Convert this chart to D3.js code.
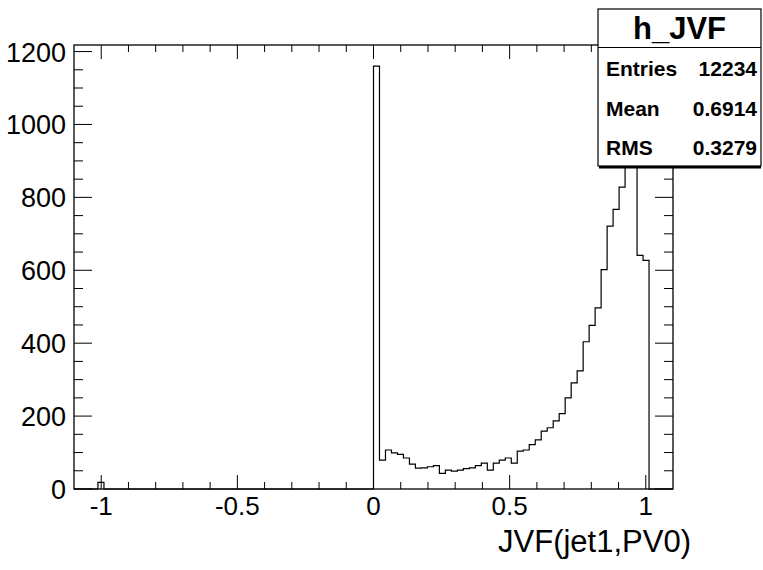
<!DOCTYPE html>
<html>
<head>
<meta charset="utf-8">
<script src="https://cdn.jsdelivr.net/npm/d3@7"></script>
<style>
  body { margin: 0; background: #fff; }
  svg { display: block; }
  text { font-family: 'Liberation Sans', Helvetica, Arial, sans-serif; fill: #000; }
</style>
</head>
<body>
<svg id="chart" width="763" height="570"></svg>
<script>
// histogram binning (ROOT TH1F: 100 bins from -1.1 to 1.1)
var nBins = 100, xMin = -1.1, xMax = 1.1;

// non-empty bins: index -> count
var binIndex = [4,
  50, 51, 52, 53, 54, 55, 56, 57, 58, 59,
  60, 61, 62, 63, 64, 65, 66, 67, 68, 69,
  70, 71, 72, 73, 74, 75, 76, 77, 78, 79,
  80, 81, 82, 83, 84, 85, 86, 87, 88, 89,
  90, 91, 92, 93, 94, 95];
var binCount = [18,
  1160, 79, 107, 99, 95, 85, 68, 57, 58, 61,
  64, 43, 52, 49, 52, 56, 58, 64, 71, 52,
  71, 79, 85, 71, 104, 107, 122, 135, 159, 168,
  187, 207, 250, 291, 324, 404, 449, 497, 602, 721,
  767, 828, 920, 975, 641, 627];

var xMajor = [-1, -0.5, 0, 0.5, 1];
var xMajorLabels = ['-1', '-0.5', '0', '0.5', '1'];
var yMajor = [0, 200, 400, 600, 800, 1000, 1200];
var yMax = 1218;

var histName = 'h_JVF';
var statNames = ['Entries', 'Mean', 'RMS'];
var statValues = ['12234', '0.6914', '0.3279'];
var xTitle = 'JVF(jet1,PV0)';

var svg = d3.select('#chart');
var frame = {left: 74, right: 673, top: 45, bottom: 489};

var x = d3.scaleLinear().domain([xMin, xMax]).range([frame.left, frame.right]);
var y = d3.scaleLinear().domain([0, yMax]).range([frame.bottom, frame.top]);

// full bin contents
var counts = d3.range(nBins).map(function() { return 0; });
binIndex.forEach(function(b, i) { counts[b] = binCount[i]; });
var bw = (xMax - xMin) / nBins;

// step outline of the histogram
var pts = [];
counts.forEach(function(c, i) {
  var lo = xMin + i * bw, hi = lo + bw;
  pts.push([x(lo), y(c)]);
  pts.push([x(hi), y(c)]);
});
svg.append('path')
  .attr('d', d3.line()(pts))
  .attr('fill', 'none')
  .attr('stroke', '#000')
  .attr('stroke-width', 1.2);

// frame
svg.append('rect')
  .attr('x', frame.left).attr('y', frame.top)
  .attr('width', frame.right - frame.left).attr('height', frame.bottom - frame.top)
  .attr('fill', 'none').attr('stroke', '#000').attr('stroke-width', 1.3);

// x ticks, bottom and top
var xMinor = d3.range(-10, 11).map(function(i) { return i / 10; });
var tickG = svg.append('g').attr('stroke', '#000').attr('stroke-width', 1);
xMinor.forEach(function(v) {
  var major = Math.abs(v - Math.round(v * 2) / 2) < 1e-9;
  var len = major ? 14 : 7;
  tickG.append('line').attr('x1', x(v)).attr('x2', x(v))
    .attr('y1', frame.bottom).attr('y2', frame.bottom - len);
  tickG.append('line').attr('x1', x(v)).attr('x2', x(v))
    .attr('y1', frame.top).attr('y2', frame.top + len);
});

// y ticks, left and right
d3.range(0, yMax, 50).forEach(function(v) {
  var len = v % 200 === 0 ? 18 : 9;
  tickG.append('line').attr('x1', frame.left).attr('x2', frame.left + len)
    .attr('y1', y(v)).attr('y2', y(v));
  tickG.append('line').attr('x1', frame.right).attr('x2', frame.right - len)
    .attr('y1', y(v)).attr('y2', y(v));
});

// tick labels
svg.append('g').selectAll('text').data(xMajor).enter().append('text')
  .attr('x', function(d) { return x(d); })
  .attr('y', 515)
  .attr('text-anchor', 'middle')
  .attr('font-size', 26)
  .text(function(d, i) { return xMajorLabels[i]; });

svg.append('g').selectAll('text').data(yMajor).enter().append('text')
  .attr('x', 66)
  .attr('y', function(d) { return y(d) + 10; })
  .attr('text-anchor', 'end')
  .attr('font-size', 27)
  .text(function(d) { return d; });

// axis title
svg.append('text')
  .attr('x', 691).attr('y', 552)
  .attr('text-anchor', 'end')
  .attr('font-size', 31)
  .text(xTitle);

// stats box
var box = {x: 598, y: 9, w: 163, h: 157, title: 38.5};
svg.append('rect')
  .attr('x', box.x + 1).attr('y', box.y + box.h)
  .attr('width', box.w - 1).attr('height', 2.5)
  .attr('fill', '#000');
svg.append('rect')
  .attr('x', box.x).attr('y', box.y).attr('width', box.w).attr('height', box.h)
  .attr('fill', '#fff').attr('stroke', '#000').attr('stroke-width', 1.2);
svg.append('line')
  .attr('x1', box.x).attr('x2', box.x + box.w)
  .attr('y1', box.y + box.title).attr('y2', box.y + box.title)
  .attr('stroke', '#000').attr('stroke-width', 1.2);
svg.append('text')
  .attr('x', box.x + box.w / 2).attr('y', box.y + 30)
  .attr('text-anchor', 'middle')
  .attr('font-size', 31).attr('font-weight', 'bold')
  .text(histName);

var rowH = (box.h - box.title) / statNames.length;
statNames.forEach(function(n, i) {
  var cy = box.y + box.title + rowH * (i + 0.5) + 9;
  svg.append('text')
    .attr('x', box.x + 8).attr('y', cy)
    .attr('font-size', 21).attr('font-weight', 'bold')
    .text(n);
  svg.append('text')
    .attr('x', box.x + box.w - 4).attr('y', cy)
    .attr('text-anchor', 'end')
    .attr('font-size', 21).attr('font-weight', 'bold')
    .text(statValues[i]);
});
</script>
</body>
</html>
